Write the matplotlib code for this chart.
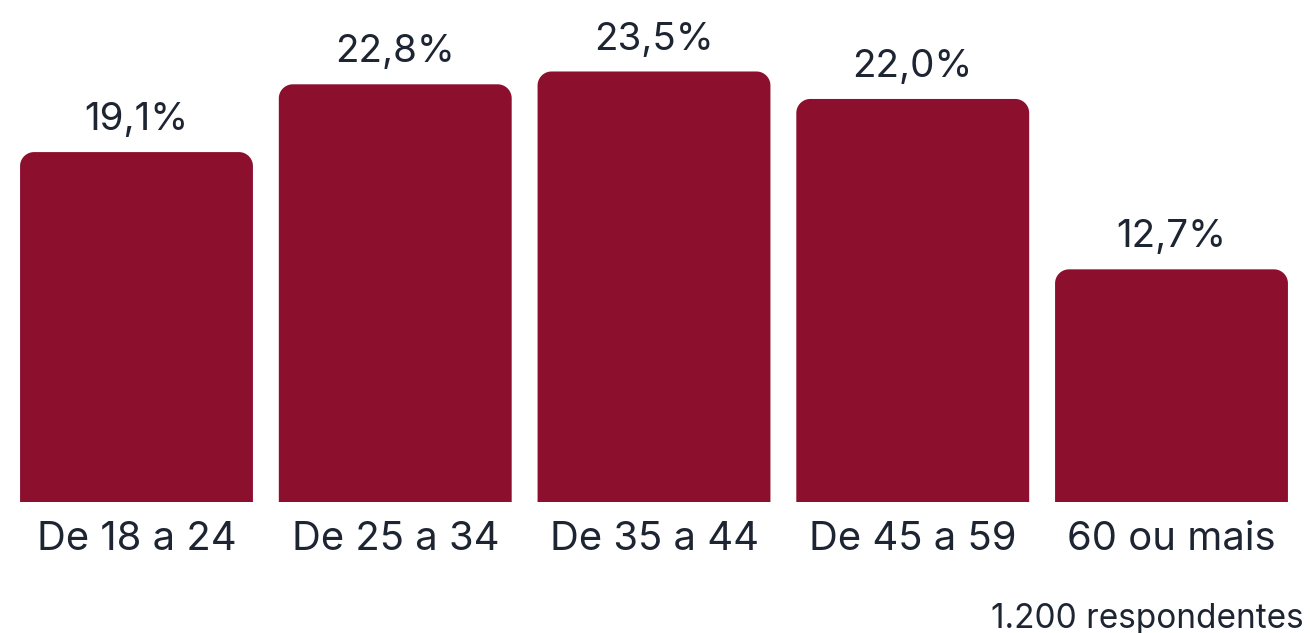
import numpy as np
import matplotlib.pyplot as plt
from matplotlib.patches import Polygon

faixas = ["De 18 a 24", "De 25 a 34", "De 35 a 44", "De 45 a 59", "60 ou mais"]
valores = [19.1, 22.8, 23.5, 22.0, 12.7]
rotulos = ["19,1%", "22,8%", "23,5%", "22,0%", "12,7%"]
nota = "1.200 respondentes"

cor_barra = "#8C0F2D"
cor_texto = "#1E2532"
plt.rcParams['font.family'] = ['Inter', 'DejaVu Sans']

W, H = 1310, 633
fig = plt.figure(figsize=(W / 100, H / 100), dpi=100)
base = 502
ax = fig.add_axes([0, (H - base) / H, 1, base / H])

passo = 258.75
largura = 0.9
ymax = base / 18.32
ax.set_xlim(-136.5 / passo, 4 + (W - 1171.5) / passo)
ax.set_ylim(0, ymax)

# barra com cantos de cima arredondados
raio_x = 14 / passo
raio_y = 14 / 18.32
t = np.linspace(0, np.pi / 2, 20)
for i, v in enumerate(valores):
    x0, x1 = i - largura / 2, i + largura / 2
    dir_x = x1 - raio_x + raio_x * np.cos(t)
    dir_y = v - raio_y + raio_y * np.sin(t)
    esq_x = x0 + raio_x - raio_x * np.cos(t[::-1])
    esq_y = v - raio_y + raio_y * np.sin(t[::-1])
    pts = [(x0, 0), (x1, 0)] + list(zip(dir_x, dir_y)) + list(zip(esq_x, esq_y))
    ax.add_patch(Polygon(pts, closed=True, fc=cor_barra, ec="none"))
    ax.annotate(rotulos[i], (i, v), xytext=(0, 10), textcoords="offset points",
                ha="center", va="bottom", fontsize=27.8, color=cor_texto)

ax.set_xticks(range(len(faixas)))
ax.set_xticklabels(faixas, fontsize=28.8, color=cor_texto)
ax.tick_params(axis="x", length=0, pad=14)
ax.set_yticks([])
for s in ax.spines.values():
    s.set_visible(False)

fig.text(1 - 6 / W, 5 / H, nota, ha="right", va="baseline", fontsize=24, color=cor_texto)

fig.savefig("out.png", dpi=100)
